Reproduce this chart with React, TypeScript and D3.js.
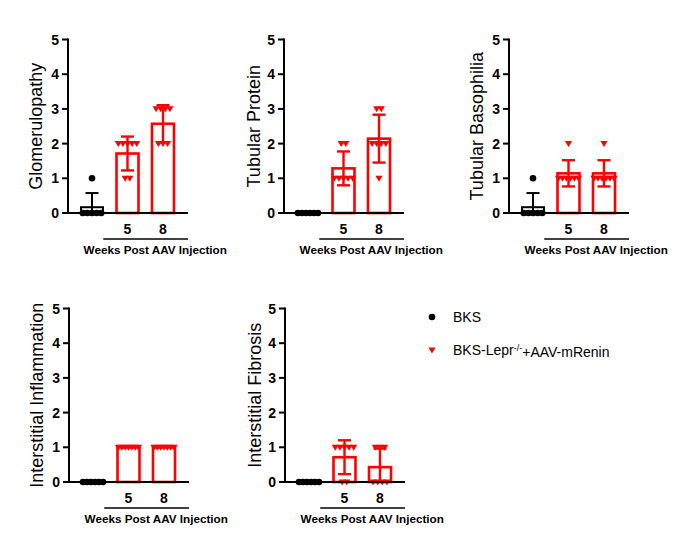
import * as d3 from 'd3';

// groups on the x axis
const groups = ['BKS', '5', '8'];
const tickLabels = ['', '5', '8'];
const yTicks = [0, 1, 2, 3, 4, 5];

// individual scores per group: [BKS, 5 wk, 8 wk]
const glomerulopathy = [[0, 0, 0, 0, 0, 1], [1, 1, 2, 2, 2, 2, 2], [2, 2, 2, 3, 3, 3, 3]];
const tubularProtein = [[0, 0, 0, 0, 0, 0], [1, 1, 1, 1, 1, 2, 2], [1, 2, 2, 2, 2, 3, 3]];
const tubularBasophilia = [[0, 0, 0, 0, 0, 1], [1, 1, 1, 1, 1, 1, 2], [1, 1, 1, 1, 1, 1, 2]];
const interstitialInflammation = [[0, 0, 0, 0, 0, 0], [1, 1, 1, 1, 1, 1, 1], [1, 1, 1, 1, 1, 1, 1]];
const interstitialFibrosis = [[0, 0, 0, 0, 0, 0], [0, 0, 1, 1, 1, 1, 1], [0, 0, 0, 0, 1, 1, 1]];

const legendLabels = ['BKS', 'BKS-Lepr'];

const RED = '#ff0000';
const FONT = 'Arial, "Liberation Sans", sans-serif';

const panels = [
    { title: 'Glomerulopathy', values: glomerulopathy, x: 68, y0: 213, labelOff: 32 },
    { title: 'Tubular Protein', values: tubularProtein, x: 284, y0: 213, labelOff: 30 },
    { title: 'Tubular Basophilia', values: tubularBasophilia, x: 509, y0: 213, labelOff: 32 },
    { title: 'Interstitial Inflammation', values: interstitialInflammation, x: 69, y0: 482, labelOff: 32 },
    { title: 'Interstitial Fibrosis', values: interstitialFibrosis, x: 285, y0: 482, labelOff: 30 },
];

const triPath = 'M-3.6,-2.6L3.6,-2.6L0,3.4Z';
const circlePath = d3.symbol(d3.symbolCircle, Math.PI * 3.3 * 3.3)() as string;

function spread(vals: number[]) {
    // simple row scatter: points of the same value side by side
    const byVal = d3.group(vals.map((v, i) => ({ v, i })), (d) => d.v);
    const out: { v: number; dx: number }[] = [];
    byVal.forEach((arr) => {
        const k = arr.length;
        const step = k > 1 ? Math.min(4.6, 20 / (k - 1)) : 0;
        arr.forEach((d, j) => out.push({ v: d.v, dx: (j - (k - 1) / 2) * step }));
    });
    return out;
}

function Panel({ p }: { p: typeof panels[number] }) {
    const height = 173.5;
    const width = 120;
    const y = d3.scaleLinear().domain([0, 5]).range([p.y0, p.y0 - height]);
    const x = d3.scalePoint().domain(groups).range([p.x + 24, p.x + 95]);
    const barW = 22;
    const redCenter = ((x('5') as number) + (x('8') as number)) / 2;

    return (
        <g>
            {/* bars, error bars, points */}
            {groups.map((g, gi) => {
                const vals = p.values[gi];
                const m = d3.mean(vals) as number;
                const sd = d3.deviation(vals) as number;
                const cx = x(g) as number;
                const color = gi === 0 ? '#000' : RED;
                const pts = spread(vals);
                return (
                    <g key={g}>
                        {m > 0 && (
                            <rect x={cx - barW / 2} y={y(m)} width={barW} height={y(0) - y(m)}
                                fill="#fff" stroke={color} strokeWidth={gi === 0 ? 2 : 2.6} />
                        )}
                        {sd > 0 && (
                            <g stroke={color} strokeWidth={gi === 0 ? 2 : 2.4}>
                                <line x1={cx} x2={cx} y1={y(Math.max(0, m - sd))} y2={y(m + sd)} />
                                <line x1={cx - 6.5} x2={cx + 6.5} y1={y(m + sd)} y2={y(m + sd)} />
                                {m - sd > 0 && <line x1={cx - 6.5} x2={cx + 6.5} y1={y(m - sd)} y2={y(m - sd)} />}
                            </g>
                        )}
                        {pts.map((d, i) => (
                            <path key={i} d={gi === 0 ? circlePath : triPath}
                                transform={`translate(${cx + d.dx},${y(d.v)})`} fill={color} />
                        ))}
                    </g>
                );
            })}

            {/* y axis */}
            <line x1={p.x} x2={p.x} y1={y(0)} y2={y(5) - 1} stroke="#000" strokeWidth={2} />
            {yTicks.map((t) => (
                <g key={t}>
                    <line x1={p.x - 6} x2={p.x} y1={y(t)} y2={y(t)} stroke="#000" strokeWidth={2} />
                    <text x={p.x - 9} y={y(t)} dy="0.36em" textAnchor="end" fontFamily={FONT}
                        fontWeight="bold" fontSize={14}>{t}</text>
                </g>
            ))}
            <text transform={`translate(${p.x - p.labelOff},${(y(0) + y(5)) / 2}) rotate(-90)`}
                textAnchor="middle" dy="0.35em" fontFamily={FONT} fontSize={18}>{p.title}</text>

            {/* x axis */}
            <line x1={p.x - 1} x2={p.x + width} y1={y(0)} y2={y(0)} stroke="#000" strokeWidth={2} />
            {groups.map((g, gi) => (
                <text key={g} x={x(g)} y={p.y0 + 16} dy="0.36em" textAnchor="middle" fontFamily={FONT}
                    fontWeight="bold" fontSize={14}>{tickLabels[gi]}</text>
            ))}
            <line x1={redCenter - 42} x2={p.x + width} y1={p.y0 + 26} y2={p.y0 + 26} stroke="#000" strokeWidth={1.6} />
            <text x={redCenter + 10} y={p.y0 + 37} dy="0.36em" textAnchor="middle" fontFamily={FONT}
                fontWeight="bold" fontSize={11.7}>Weeks Post AAV Injection</text>
        </g>
    );
}

export default function App() {
    return (
        <svg width={699} height={553} style={{ position: 'absolute', left: 0, top: 0, background: '#fff' }}>
            {panels.map((p) => <Panel key={p.title} p={p} />)}

            {/* legend */}
            <path d={circlePath} transform="translate(432,317)" fill="#000" />
            <text x={453} y={317} dy="0.36em" fontFamily={FONT} fontSize={14}>{legendLabels[0]}</text>
            <path d={triPath} transform="translate(432,350)" fill={RED} />
            <text x={453} y={350} dy="0.36em" fontFamily={FONT} fontSize={14}>
                {legendLabels[1]}
                <tspan dy="-0.45em" fontSize={9}>-/-</tspan>
                <tspan dy="0.45em">+AAV-mRenin</tspan>
            </text>
        </svg>
    );
}
